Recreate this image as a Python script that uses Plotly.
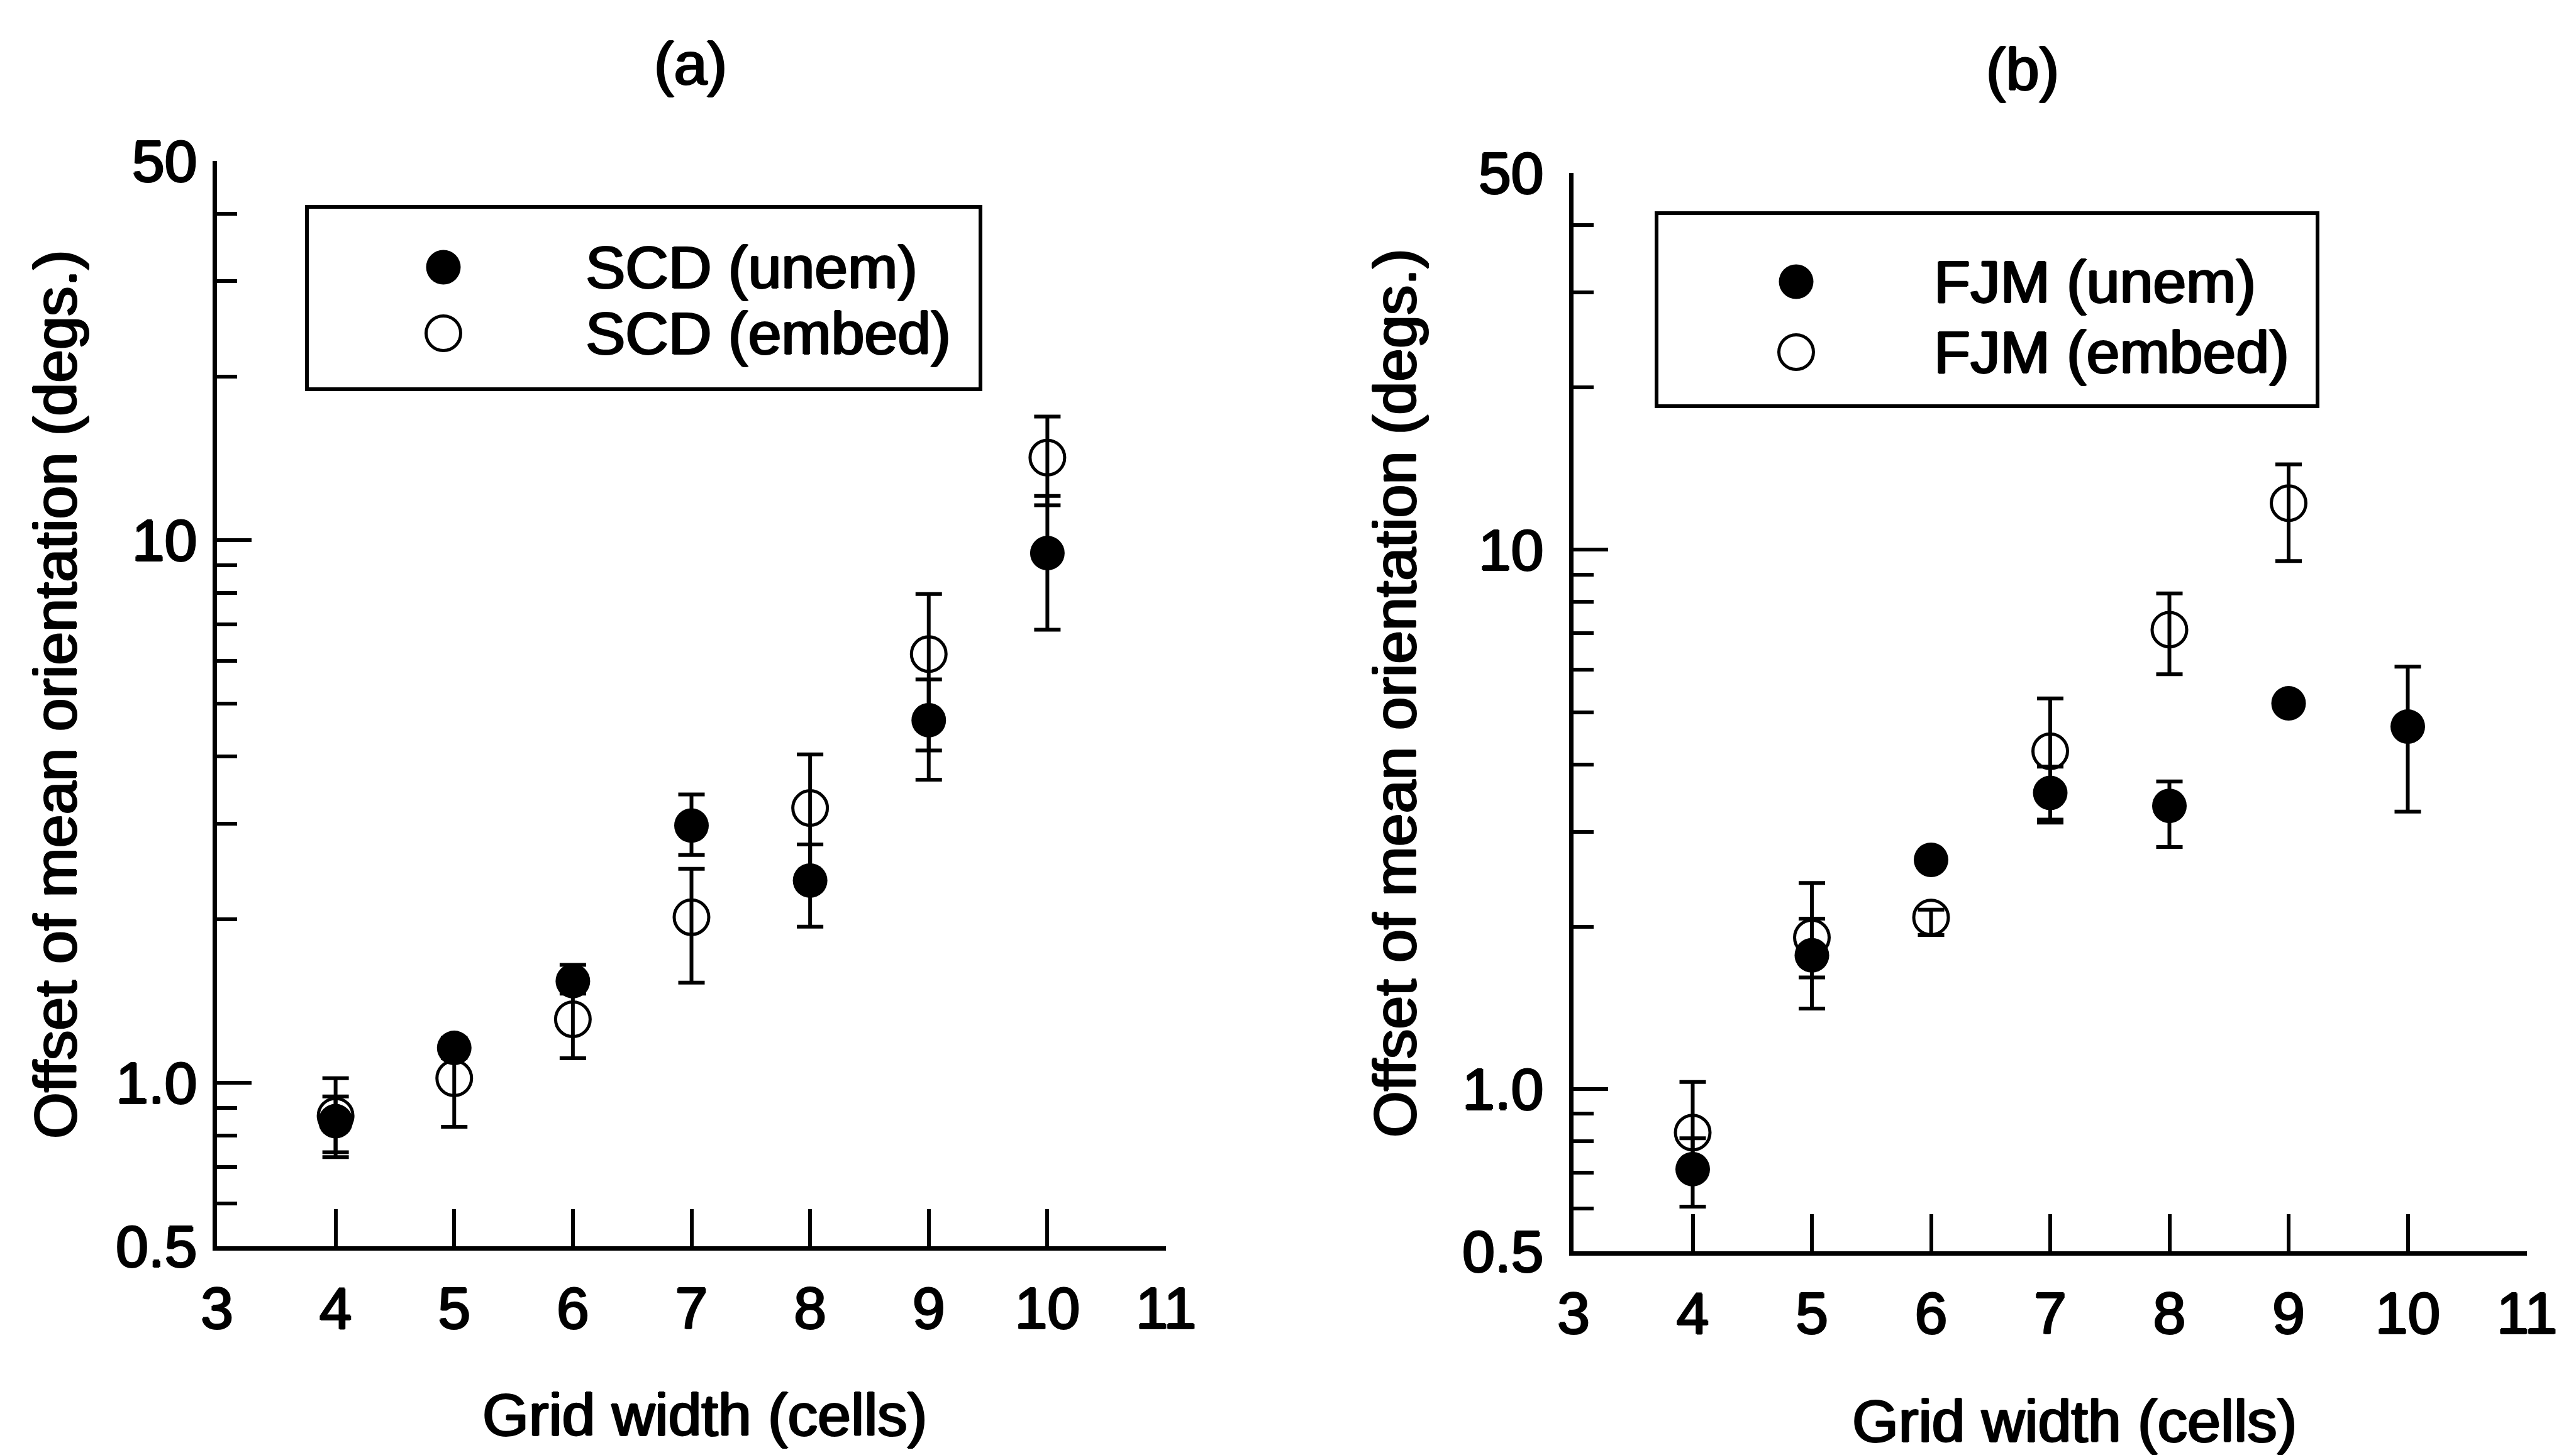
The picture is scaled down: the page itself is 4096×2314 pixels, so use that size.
import math
import plotly.graph_objects as go

W, H = 4096, 2314

# ---------------- data ----------------
grid_width = [4, 5, 6, 7, 8, 9, 10]
grid_width_fjm_embed = [4, 5, 6, 7, 8, 9]

scd_unem = [0.85, 1.16, 1.54, 2.98, 2.36, 4.66, 9.47]
scd_unem_err_up = [0.094, 0.05, 0.11, 0.42, 0.39, 0.88, 2.6]
scd_unem_err_dn = [0.105, 0.05, 0.08, 0.35, 0.42, 1.04, 2.63]
scd_embed = [0.87, 1.02, 1.31, 2.02, 3.21, 6.17, 14.2]
scd_embed_err_up = [0.15, 0.19, 0.20, 0.46, 0.82, 1.79, 2.7]
scd_embed_err_dn = [0.14, 0.19, 0.20, 0.49, 0.82, 2.07, 2.6]

fjm_unem = [0.71, 1.77, 2.66, 3.54, 3.35, 5.19, 4.70]
fjm_unem_err_up = [0.10, 0.30, 0.05, 0.42, 0.37, 0.05, 1.37]
fjm_unem_err_dn = [0.105, 0.36, 0.05, 0.42, 0.54, 0.05, 1.43]
fjm_embed = [0.83, 1.91, 2.08, 4.23, 7.11, 12.2]
fjm_embed_err_up = [0.20, 0.50, 0.07, 1.07, 1.19, 2.2]
fjm_embed_err_dn = [0.10, 0.30, 0.15, 1.07, 1.23, 2.67]

x_tick_vals = [3, 4, 5, 6, 7, 8, 9, 10, 11]
y_major_vals = [1, 10]
y_major_text = ["1.0", "10"]
y_end_vals = [0.5, 50]
y_end_text = ["0.5", "50"]
y_minor_vals = [0.5, 0.6, 0.7, 0.8, 0.9, 2, 3, 4, 5, 6, 7, 8, 9, 20, 30, 40, 50]

legend_a = ["SCD (unem)", "SCD (embed)"]
legend_b = ["FJM (unem)", "FJM (embed)"]
titles = ["(a)", "(b)"]
x_title = "Grid width (cells)"
y_title = "Offset of mean orientation (degs.)"

# ---------------- style / layout (pixels in output window) ----------------
FONT = "Liberation Sans, Arial, Helvetica, sans-serif"
SHADOW = ("1.6px 0px 0px black, -1.6px 0px 0px black, 0px 1.3px 0px black, "
          "0px -1.3px 0px black")
TICK_FS = 93
TITLE_FS = 95
MS = 55
BLACK = "black"

panels = {
    "a": dict(left=345, right=1854, top=256, bottom=1982, ystandoff=6),
    "b": dict(left=2502, right=4018, top=275, bottom=1990, ystandoff=22),
}

def xdom(p):
    return [p["left"] / W, p["right"] / W]

def ydom(p):
    return [1 - p["bottom"] / H, 1 - p["top"] / H]

yrange = [math.log10(0.5), math.log10(50)]

fig = go.Figure()

def add_series(xa, ya, xs_u, ys_u, up_u, dn_u, xs_e, ys_e, up_e, dn_e):
    fig.add_trace(go.Scatter(
        x=xs_e, y=ys_e, mode="markers", xaxis=xa, yaxis=ya, showlegend=False,
        marker=dict(symbol="circle-open", size=MS, color=BLACK,
                    line=dict(width=5, color=BLACK)),
        error_y=dict(type="data", symmetric=False, array=up_e, arrayminus=dn_e,
                     color=BLACK, thickness=6, width=21),
    ))
    fig.add_trace(go.Scatter(
        x=xs_u, y=ys_u, mode="markers", xaxis=xa, yaxis=ya, showlegend=False,
        marker=dict(symbol="circle", size=MS, color=BLACK, line=dict(width=0)),
        error_y=dict(type="data", symmetric=False, array=up_u, arrayminus=dn_u,
                     color=BLACK, thickness=6, width=21),
    ))

add_series("x", "y", grid_width, scd_unem, scd_unem_err_up, scd_unem_err_dn,
           grid_width, scd_embed, scd_embed_err_up, scd_embed_err_dn)
add_series("x2", "y2", grid_width, fjm_unem, fjm_unem_err_up, fjm_unem_err_dn,
           grid_width_fjm_embed, fjm_embed, fjm_embed_err_up, fjm_embed_err_dn)

# empty traces so the overlaying label axes (0.5 / 50) are drawn
fig.add_trace(go.Scatter(x=[None], y=[None], xaxis="x", yaxis="y3", showlegend=False,
                         hoverinfo="skip", mode="markers"))
fig.add_trace(go.Scatter(x=[None], y=[None], xaxis="x2", yaxis="y4", showlegend=False,
                         hoverinfo="skip", mode="markers"))

tickfont = dict(family=FONT, size=TICK_FS, color=BLACK, shadow=SHADOW)

def xaxis_cfg(p, anchor):
    return dict(domain=xdom(p), anchor=anchor, range=[3, 11], automargin=False,
                tickmode="array", tickvals=x_tick_vals,
                ticktext=[str(v) for v in x_tick_vals],
                ticks="inside", ticklen=59, tickwidth=6, tickcolor=BLACK,
                showline=True, linewidth=7, linecolor=BLACK,
                showgrid=False, zeroline=False, tickfont=tickfont,
                ticklabelstandoff=12, fixedrange=True)

def yaxis_cfg(p, anchor):
    return dict(domain=ydom(p), anchor=anchor, type="log", range=yrange, automargin=False,
                tickmode="array", tickvals=y_major_vals, ticktext=y_major_text,
                ticks="inside", ticklen=55, tickwidth=6, tickcolor=BLACK,
                minor=dict(tickmode="array", tickvals=y_minor_vals, ticks="inside",
                           ticklen=32, tickwidth=6, tickcolor=BLACK, showgrid=False),
                showline=True, linewidth=7, linecolor=BLACK,
                showgrid=False, zeroline=False, tickfont=tickfont,
                ticklabelstandoff=p["ystandoff"], fixedrange=True)

def yaxis_end_cfg(p, over, anchor):
    return dict(overlaying=over, anchor=anchor, side="left", type="log", range=yrange,
                automargin=False,
                tickmode="array", tickvals=y_end_vals, ticktext=y_end_text,
                ticks="", showline=True, linewidth=7, linecolor=BLACK,
                showgrid=False, zeroline=False, tickfont=tickfont,
                ticklabelstandoff=p["ystandoff"], fixedrange=True)

# auxiliary full-window pixel axes for the hand-built legends
aux_x = dict(domain=[0, 1], range=[0, W], visible=False, fixedrange=True, anchor="y5",
             automargin=False)
aux_y = dict(domain=[0, 1], range=[H, 0], visible=False, fixedrange=True, anchor="x5",
             automargin=False)

fig.update_layout(
    width=W, height=H,
    margin=dict(l=0, r=0, t=0, b=0, autoexpand=False),
    paper_bgcolor="white", plot_bgcolor="rgba(0,0,0,0)",
    showlegend=False,
    xaxis=xaxis_cfg(panels["a"], "y"),
    yaxis=yaxis_cfg(panels["a"], "x"),
    xaxis2=xaxis_cfg(panels["b"], "y2"),
    yaxis2=yaxis_cfg(panels["b"], "x2"),
    yaxis3=yaxis_end_cfg(panels["a"], "y", "x"),
    yaxis4=yaxis_end_cfg(panels["b"], "y2", "x2"),
    xaxis5=aux_x, yaxis5=aux_y,
)

# legends: box, marker glyphs (on pixel axes), labels
legend_boxes = {
    "a": dict(x0=488, x1=1559, y0=329, y1=619, mx=705, my=[425, 530], tx=929, labels=legend_a),
    "b": dict(x0=2634, x1=3685, y0=339, y1=646, mx=2856, my=[448, 560], tx=3073, labels=legend_b),
}
titlefont = dict(family=FONT, size=TITLE_FS, color=BLACK, shadow=SHADOW)
for key, lb in legend_boxes.items():
    fig.add_shape(type="rect", xref="x5", yref="y5",
                  x0=lb["x0"], x1=lb["x1"], y0=lb["y0"], y1=lb["y1"],
                  line=dict(color=BLACK, width=6), fillcolor="rgba(0,0,0,0)")
    fig.add_trace(go.Scatter(x=[lb["mx"]], y=[lb["my"][0]], xaxis="x5", yaxis="y5",
                             mode="markers", showlegend=False, hoverinfo="skip",
                             marker=dict(symbol="circle", size=MS, color=BLACK)))
    fig.add_trace(go.Scatter(x=[lb["mx"]], y=[lb["my"][1]], xaxis="x5", yaxis="y5",
                             mode="markers", showlegend=False, hoverinfo="skip",
                             marker=dict(symbol="circle-open", size=MS, color=BLACK,
                                         line=dict(width=5, color=BLACK))))
    for lab, yy in zip(lb["labels"], lb["my"]):
        fig.add_annotation(xref="x5", yref="y5", x=lb["tx"], y=yy, text=lab,
                           showarrow=False, xanchor="left", yanchor="middle",
                           font=titlefont)

# panel titles
fig.add_annotation(xref="paper", yref="paper", x=1098 / W, y=1 - 101 / H, text=titles[0],
                   showarrow=False, xanchor="center", yanchor="middle", font=titlefont)
fig.add_annotation(xref="paper", yref="paper", x=3216 / W, y=1 - 110 / H, text=titles[1],
                   showarrow=False, xanchor="center", yanchor="middle", font=titlefont)
# x titles
fig.add_annotation(xref="paper", yref="paper", x=1120 / W, y=1 - 2250 / H, text=x_title,
                   showarrow=False, xanchor="center", yanchor="middle", font=titlefont)
fig.add_annotation(xref="paper", yref="paper", x=3298 / W, y=1 - 2260 / H, text=x_title,
                   showarrow=False, xanchor="center", yanchor="middle", font=titlefont)
# y titles
fig.add_annotation(xref="paper", yref="paper", x=88 / W, y=1 - 1105 / H, text=y_title,
                   showarrow=False, xanchor="center", yanchor="middle", textangle=-90,
                   font=titlefont)
fig.add_annotation(xref="paper", yref="paper", x=2218 / W, y=1 - 1103 / H, text=y_title,
                   showarrow=False, xanchor="center", yanchor="middle", textangle=-90,
                   font=titlefont)

fig.write_html("out.html", config=dict(displayModeBar=False))
